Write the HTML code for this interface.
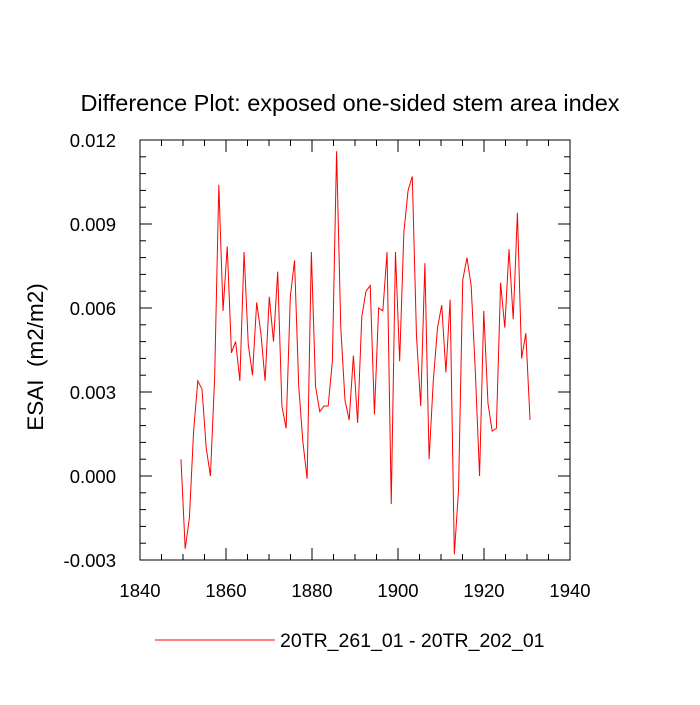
<!DOCTYPE html>
<html><head><meta charset="utf-8"><style>
body{margin:0;background:#fff;}
svg text{font-family:"Liberation Sans",sans-serif;fill:#000;}
</style></head><body>
<svg width="700" height="700" id="chart" xmlns="http://www.w3.org/2000/svg">
<rect width="700" height="700" fill="#fff"/>
<text x="350" y="111" font-size="23.5" text-anchor="middle">Difference Plot: exposed one-sided stem area index</text>
<text transform="translate(43,357) rotate(-90)" font-size="22.5" text-anchor="middle" xml:space="preserve">ESAI  (m2/m2)</text>
<g id="axes"></g>
<polyline id="series" fill="none" stroke="#ff0000" stroke-width="1"/>
<rect x="140" y="140" width="430" height="420" fill="none" stroke="#000" stroke-width="1"/>
<line x1="155" y1="640" x2="275" y2="640" stroke="#ff0000" stroke-width="1"/>
<text x="280" y="647" font-size="19.5">20TR_261_01 - 20TR_202_01</text>
</svg>
<script>
const startYear = 1849.53;
const yearStep = 0.978;
const values = [0.0006,-0.0026,-0.0015,0.0016,0.0034,0.0031,0.0010,0.0000,0.0035,0.0104,
0.0059,0.0082,0.0044,0.0048,0.0034,0.0080,0.0047,0.0036,0.0062,0.0051,
0.0034,0.0064,0.0048,0.0073,0.0025,0.0017,0.0064,0.0077,0.0032,0.0012,
-0.0001,0.0080,0.0032,0.0023,0.0025,0.0025,0.0041,0.0116,0.0053,0.0027,
0.0020,0.0043,0.0019,0.0057,0.0066,0.0068,0.0022,0.0060,0.0059,0.0080,
-0.0010,0.0080,0.0041,0.0087,0.0102,0.0107,0.0050,0.0025,0.0076,0.0006,
0.0034,0.0053,0.0061,0.0037,0.0063,-0.0028,-0.0005,0.0070,0.0078,0.0068,
0.0037,0.0000,0.0059,0.0026,0.0016,0.0017,0.0069,0.0053,0.0081,0.0056,
0.0094,0.0042,0.0051,0.0020];
const xTicks = [1840,1860,1880,1900,1920,1940];
const yTicks = [-0.003,0.000,0.003,0.006,0.009,0.012];
const yTickLabels = ["-0.003","0.000","0.003","0.006","0.009","0.012"];

const X0=140,X1=570,Y0=140,Y1=560;
const xs = v => X0 + (v-1840)/100*(X1-X0);
const ys = v => Y1 - (v+0.003)/0.015*(Y1-Y0);
const NS="http://www.w3.org/2000/svg";
const g=document.getElementById('axes');
function ln(x1,y1,x2,y2,name){
  const l=document.createElementNS(NS,'line');
  l.setAttribute('x1',x1);l.setAttribute('y1',y1);l.setAttribute('x2',x2);l.setAttribute('y2',y2);
  l.setAttribute('stroke','#000');l.setAttribute('stroke-width','1');
  
  
  g.appendChild(l);
}
function tx(x,y,s,anchor,name){
  const t=document.createElementNS(NS,'text');
  t.setAttribute('x',x);t.setAttribute('y',y);t.setAttribute('font-size','18.5');t.setAttribute('text-anchor',anchor);
  t.textContent=s;
  
  
  g.appendChild(t);
}
for(let yr=1840;yr<=1940;yr+=5){
  const x=xs(yr), major=(yr%20===0), L=major?12:6;
  ln(x,Y1,x,Y1-L,'x-tick');ln(x,Y0,x,Y0+L,'x-tick-top');
}
xTicks.forEach(v=>tx(xs(v),Y1+37,String(v),'middle','x-tick-label'));
for(let i=0;i<=25;i++){
  const v=-0.003+i*0.0006, y=ys(v), major=(i%5===0), L=major?12:6;
  ln(X0,y,X0+L,y,'y-tick');ln(X1,y,X1-L,y,'y-tick-right');
}
yTicks.forEach((v,i)=>tx(X0-24,ys(v)+7,yTickLabels[i],'end','y-tick-label'));
document.getElementById('series').setAttribute('points',values.map((v,i)=>xs(startYear+i*yearStep).toFixed(2)+','+ys(v).toFixed(2)).join(' '));
</script>
</body></html>
